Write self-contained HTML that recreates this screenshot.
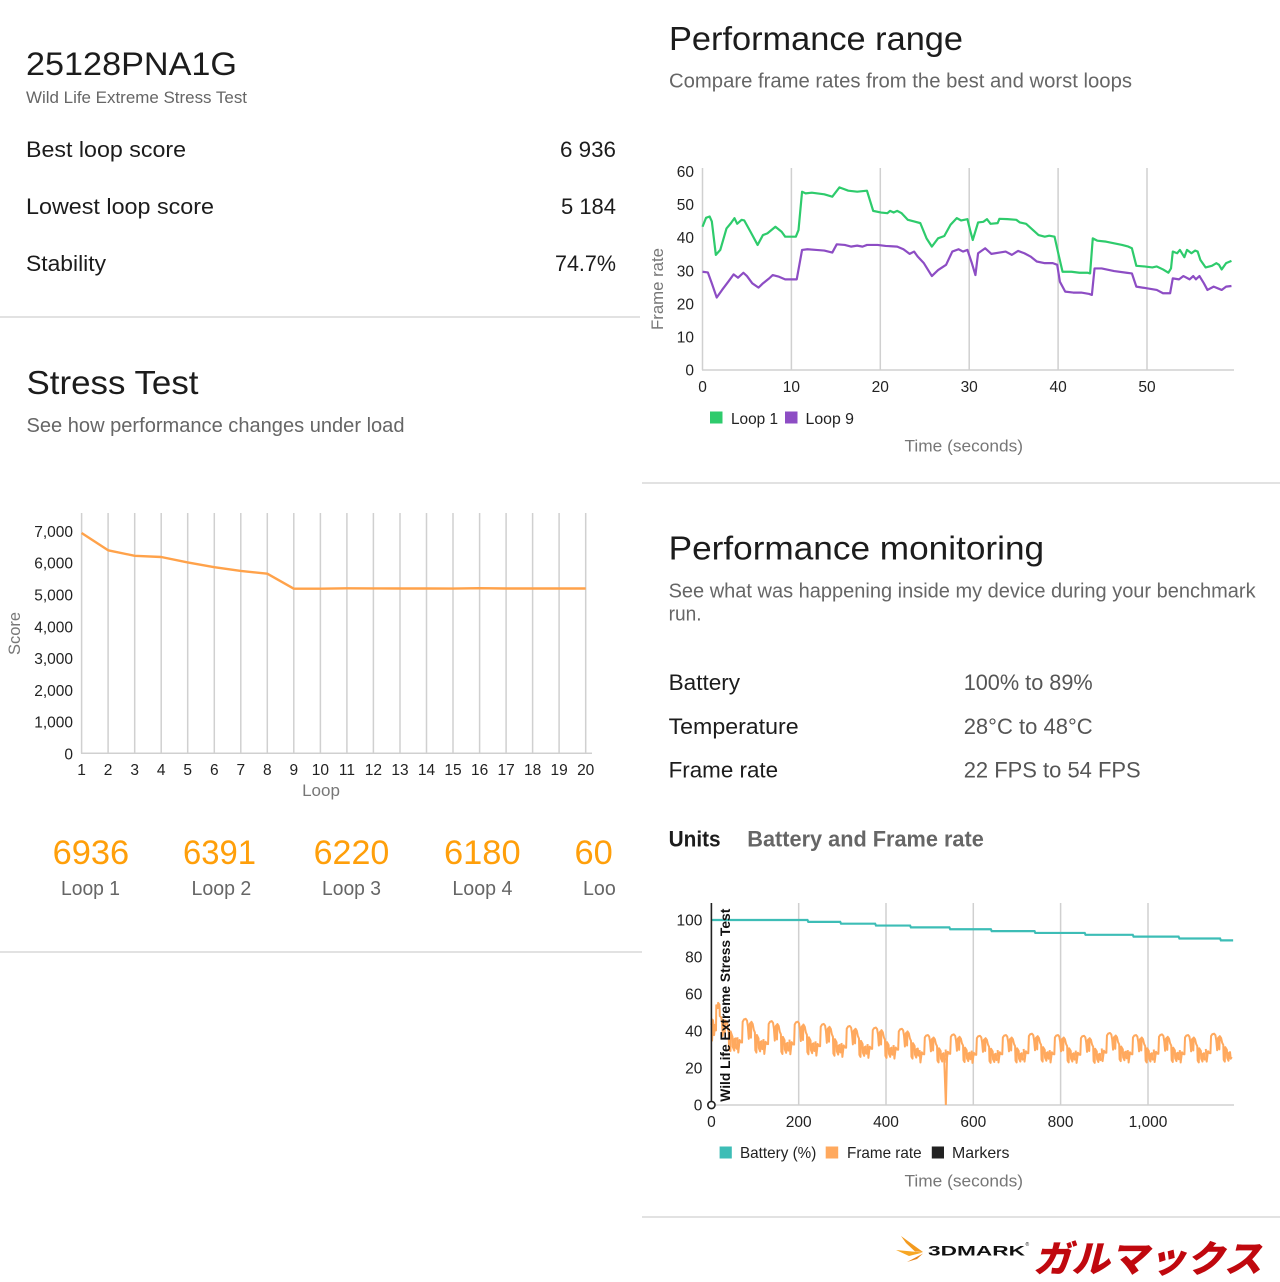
<!DOCTYPE html>
<html>
<head>
<meta charset="utf-8">
<style>
html,body{margin:0;padding:0;background:#fff;}
svg{display:block;}
text{font-family:"Liberation Sans",Arial,sans-serif;}
</style>
</head>
<body>
<svg width="1280" height="1282" viewBox="0 0 1280 1282" xmlns="http://www.w3.org/2000/svg">
<defs>
<polyline id="G" fill="none" vector-effect="non-scaling-stroke" stroke-linejoin="round" points="0,43.3 0.4,46 0.8,46.4 1.05,44.9 1.5,34.8 2,36.3 2.7,42.8 3.2,44.4 3.6,45.9 3.9,44.2 4.4,45.4 4.7,45.2 5.4,41.8 6.2,37.8 6.8,40.8 7.3,41.3 8.2,43.3 8.9,41.8 9.3,40.3 10.5,40.3 10.8,42.3 11.2,53.9 11.6,53.4 12.3,53.6 13.7,53.1 14.6,52.4 15.4,55.2 16.4,54.2 17.4,53.9 18.5,54.2 19.2,48.1 20.1,47.6 20.8,47.4 21.1,48.1 21.5,47.6 21.9,48.1 22.4,47.4 23.1,45.4 23.8,44.9 24.5,44.4 25.2,39.8 25.8,37.3 26.5,39.8 27.2,40.5 27.9,43.9 28.6,45.9 29.1,45.2 29.8,45.6 30.1,42.3 30.4,39.3 31,44.6 31.6,44.8 32,45.6 32.4,44.2 33.2,44.4 33.4,45.7 34.3,45.6 35.3,45.4 35.7,44.6 36.4,44.2 37.1,42.5 37.8,40.8 38.5,40.3 39,40.6 39.6,40.3 40.1,34.3 40.5,29.7 41.5,29.7 42.4,29.4 43.3,29.4 43.6,29.2 43.9,39.8 44.4,39.1 45.4,38.8 46.3,38.3 47.2,37.8 47.9,37.3 48.3,36.8 48.8,31.5 49.7,31.3 50.6,31 51.1,31.3 51.8,30.4 52.4,29.4 52.7,30.7 52.9,35.8 53.4,35.3 53.7,36.3 54.2,34.1 54.5,36.3 55,35.3 55.4,36.1 55.7,35.8 56,33.3 56.6,31 57.3,31.5 57.8,32.3 58.1,31.8 58.4,30.4 58.9,32.3 59.5,33"/>
<polyline id="P" fill="none" vector-effect="non-scaling-stroke" stroke-linejoin="round" points="0,29.7 0.6,29.5 1.05,26.2 1.6,21.9 2.2,24.2 2.9,26.7 3.5,28.9 4,27.9 4.6,29.4 5,28.4 5.6,26.2 6.3,24.9 6.8,26.2 7.5,27.7 7.9,28.7 8.6,28.2 9.3,27.4 10.6,27.4 11.2,36.3 11.8,36.5 12.8,36.3 13.7,36.1 14.6,35.5 15.1,38 16,37.8 16.7,37.3 17.4,37.6 18,37.3 18.5,37.8 19.7,37.8 20.6,37.5 21.9,37.3 22.6,36.5 23.3,35.1 23.8,35.8 24.2,34.3 24.9,32.3 25.8,28.4 26.5,30.2 27.4,31.8 28.1,35.8 28.8,36.5 29.3,35.8 29.8,36.3 30.3,32.3 30.7,28.7 31,35.3 31.8,36.8 32.5,35.1 33.4,35.5 34.1,35.8 34.8,34.8 35.5,36 36.2,35.3 36.9,34.3 37.6,32.8 38.5,32.3 39.4,32.3 39.9,31.8 40.2,26.7 40.8,23.7 41.7,23.4 42.6,23.4 43.5,23 43.8,22.7 44.1,30.7 44.9,30.7 46.3,29.9 47.7,29.4 48.3,29.2 48.8,25.2 50,24.7 51.1,24.2 51.8,23.2 52.6,23.2 52.9,27.7 53.6,27.4 54.1,28.4 54.8,27.4 55.2,28.4 55.5,27.4 55.9,28.4 56.4,26.2 56.8,24.2 57.5,25.2 58.4,24.2 58.9,25.2 59.5,25.4"/>
<polyline id="G2" fill="none" vector-effect="non-scaling-stroke" stroke-linejoin="round" points="0,43.3 0.8,46.4 1.5,34.8 3.6,45.9 5.4,41.8 6.2,37.8 8.2,43.3 10.5,40.3 11.2,53.9 14.6,52.4 15.4,55.2 18.5,54.2 19.2,48.1 22.4,47.4 24.5,44.4 25.8,37.3 28.6,45.9 29.8,45.6 30.4,39.3 32,45.6 36.4,44.2 38.5,40.3 39.6,40.3 40.5,29.7 43.6,29.2 43.9,39.8 48.3,36.8 48.8,31.5 52.4,29.4 53,35.8 55.4,36 56.6,31 58.4,30.4 59.5,33"/>
<polyline id="P2" fill="none" vector-effect="non-scaling-stroke" stroke-linejoin="round" points="0,29.7 2,23 5,28.5 8,27.5 10.6,27.4 12,36.5 15,37.5 19,37.8 22,37 24,34.3 26,29 28,35.5 30,36 31,29.5 32,36.5 35,35.5 37.5,33 40,31.8 41,24 43.5,23 44.5,30.7 48.3,29.2 49,25 52,23.5 53,27.7 55.5,28 57,24.5 59.5,25.4"/>
<clipPath id="clipScores"><rect x="0" y="820" width="615" height="100"/></clipPath>
</defs>

<!-- ============ LEFT TOP ============ -->
<text x="26" y="75" font-size="32" fill="#1c1c1c" textLength="211" lengthAdjust="spacingAndGlyphs">25128PNA1G</text>
<text x="26" y="103" font-size="17" fill="#666" textLength="221" lengthAdjust="spacingAndGlyphs">Wild Life Extreme Stress Test</text>
<text x="26" y="157" font-size="22" fill="#1c1c1c" textLength="160" lengthAdjust="spacingAndGlyphs">Best loop score</text>
<text x="560" y="157" font-size="22" fill="#1c1c1c" textLength="56" lengthAdjust="spacingAndGlyphs">6 936</text>
<text x="26" y="214" font-size="22" fill="#1c1c1c" textLength="188" lengthAdjust="spacingAndGlyphs">Lowest loop score</text>
<text x="561" y="214" font-size="22" fill="#1c1c1c" textLength="55" lengthAdjust="spacingAndGlyphs">5 184</text>
<text x="26" y="271" font-size="22" fill="#1c1c1c" textLength="80" lengthAdjust="spacingAndGlyphs">Stability</text>
<text x="555" y="271" font-size="22" fill="#1c1c1c" textLength="61" lengthAdjust="spacingAndGlyphs">74.7%</text>
<line x1="0" y1="317" x2="640" y2="317" stroke="#e2e2e2" stroke-width="2"/>

<!-- ============ STRESS TEST ============ -->
<text x="26.5" y="394" font-size="33" fill="#1c1c1c" textLength="172" lengthAdjust="spacingAndGlyphs">Stress Test</text>
<text x="26.5" y="432" font-size="20.5" fill="#666" textLength="378" lengthAdjust="spacingAndGlyphs">See how performance changes under load</text>

<g stroke="#d0d0d0" stroke-width="1.5">
<line x1="81.6" y1="513" x2="81.6" y2="753.3"/>
<line x1="108.1" y1="513" x2="108.1" y2="753.3"/>
<line x1="134.7" y1="513" x2="134.7" y2="753.3"/>
<line x1="161.2" y1="513" x2="161.2" y2="753.3"/>
<line x1="187.7" y1="513" x2="187.7" y2="753.3"/>
<line x1="214.3" y1="513" x2="214.3" y2="753.3"/>
<line x1="240.8" y1="513" x2="240.8" y2="753.3"/>
<line x1="267.3" y1="513" x2="267.3" y2="753.3"/>
<line x1="293.8" y1="513" x2="293.8" y2="753.3"/>
<line x1="320.4" y1="513" x2="320.4" y2="753.3"/>
<line x1="346.9" y1="513" x2="346.9" y2="753.3"/>
<line x1="373.4" y1="513" x2="373.4" y2="753.3"/>
<line x1="400" y1="513" x2="400" y2="753.3"/>
<line x1="426.5" y1="513" x2="426.5" y2="753.3"/>
<line x1="453" y1="513" x2="453" y2="753.3"/>
<line x1="479.6" y1="513" x2="479.6" y2="753.3"/>
<line x1="506.1" y1="513" x2="506.1" y2="753.3"/>
<line x1="532.6" y1="513" x2="532.6" y2="753.3"/>
<line x1="559.1" y1="513" x2="559.1" y2="753.3"/>
<line x1="585.7" y1="513" x2="585.7" y2="753.3"/>
<line x1="81" y1="753.3" x2="592" y2="753.3"/>
</g>
<polyline fill="none" stroke="#ffa24a" stroke-width="2.4" stroke-linejoin="round" points="81.6,533 108.1,550.3 134.7,555.8 161.2,557 187.7,562.4 214.3,567.2 240.8,570.9 267.3,573.7 293.8,588.7 320.4,588.7 346.9,588.3 373.4,588.4 400,588.5 426.5,588.5 453,588.6 479.6,588.2 506.1,588.5 532.6,588.5 559.1,588.5 585.7,588.5"/>
<g font-size="15.5" fill="#222" text-anchor="end">
<text x="73" y="537">7,000</text>
<text x="73" y="568.7">6,000</text>
<text x="73" y="600.5">5,000</text>
<text x="73" y="632.3">4,000</text>
<text x="73" y="664">3,000</text>
<text x="73" y="695.8">2,000</text>
<text x="73" y="727.5">1,000</text>
<text x="73" y="759.3">0</text>
</g>
<g font-size="15.5" fill="#222" text-anchor="middle">
<text x="81.6" y="775">1</text><text x="108.1" y="775">2</text><text x="134.7" y="775">3</text><text x="161.2" y="775">4</text><text x="187.7" y="775">5</text><text x="214.3" y="775">6</text><text x="240.8" y="775">7</text><text x="267.3" y="775">8</text><text x="293.8" y="775">9</text><text x="320.4" y="775">10</text><text x="346.9" y="775">11</text><text x="373.4" y="775">12</text><text x="400" y="775">13</text><text x="426.5" y="775">14</text><text x="453" y="775">15</text><text x="479.6" y="775">16</text><text x="506.1" y="775">17</text><text x="532.6" y="775">18</text><text x="559.1" y="775">19</text><text x="585.7" y="775">20</text>
</g>
<text x="321" y="796" font-size="17" fill="#777" text-anchor="middle">Loop</text>
<text transform="translate(20,633.5) rotate(-90)" font-size="17" fill="#777" text-anchor="middle" textLength="43" lengthAdjust="spacingAndGlyphs">Score</text>

<!-- loop scores -->
<g clip-path="url(#clipScores)">
<g font-size="34.5" fill="#ff9f0a">
<text x="52.6" y="864" textLength="76.6" lengthAdjust="spacingAndGlyphs">6936</text>
<text x="183" y="864" textLength="73" lengthAdjust="spacingAndGlyphs">6391</text>
<text x="313.6" y="864" textLength="75.7" lengthAdjust="spacingAndGlyphs">6220</text>
<text x="444" y="864" textLength="76.6" lengthAdjust="spacingAndGlyphs">6180</text>
<text x="574.5" y="864" textLength="76.6" lengthAdjust="spacingAndGlyphs">6010</text>
</g>
<g font-size="20" fill="#666">
<text x="61" y="895" textLength="59" lengthAdjust="spacingAndGlyphs">Loop 1</text>
<text x="191.5" y="895" textLength="59.8" lengthAdjust="spacingAndGlyphs">Loop 2</text>
<text x="322" y="895" textLength="59" lengthAdjust="spacingAndGlyphs">Loop 3</text>
<text x="452.4" y="895" textLength="60" lengthAdjust="spacingAndGlyphs">Loop 4</text>
<text x="583" y="895" textLength="60" lengthAdjust="spacingAndGlyphs">Loop 5</text>
</g>
</g>
<line x1="0" y1="952" x2="642" y2="952" stroke="#e2e2e2" stroke-width="2"/>

<!-- ============ PERFORMANCE RANGE ============ -->
<text x="669" y="50" font-size="33" fill="#1c1c1c" textLength="294" lengthAdjust="spacingAndGlyphs">Performance range</text>
<text x="669" y="87.3" font-size="20" fill="#666" textLength="463" lengthAdjust="spacingAndGlyphs">Compare frame rates from the best and worst loops</text>

<g stroke="#d0d0d0" stroke-width="1.5">
<line x1="702.5" y1="168" x2="702.5" y2="370"/>
<line x1="791.4" y1="168" x2="791.4" y2="370"/>
<line x1="880.3" y1="168" x2="880.3" y2="370"/>
<line x1="969.2" y1="168" x2="969.2" y2="370"/>
<line x1="1058.1" y1="168" x2="1058.1" y2="370"/>
<line x1="1147" y1="168" x2="1147" y2="370"/>
<line x1="702" y1="370" x2="1234" y2="370"/>
</g>
<g transform="translate(702.5,370) scale(8.89,-3.308)">
<use href="#G" stroke="#2ecb6c" stroke-width="2.2"/>
<use href="#P" stroke="#8d4dc4" stroke-width="2.2"/>
</g>
<g font-size="15.5" fill="#222" text-anchor="end">
<text x="694" y="177">60</text>
<text x="694" y="210.1">50</text>
<text x="694" y="243.2">40</text>
<text x="694" y="276.3">30</text>
<text x="694" y="309.3">20</text>
<text x="694" y="342.4">10</text>
<text x="694" y="375.5">0</text>
</g>
<g font-size="15.5" fill="#222" text-anchor="middle">
<text x="702.5" y="392">0</text>
<text x="791.4" y="392">10</text>
<text x="880.3" y="392">20</text>
<text x="969.2" y="392">30</text>
<text x="1058.1" y="392">40</text>
<text x="1147" y="392">50</text>
</g>
<text transform="translate(663,289) rotate(-90)" font-size="17" fill="#777" text-anchor="middle" textLength="82" lengthAdjust="spacingAndGlyphs">Frame rate</text>
<rect x="710" y="411.5" width="12.5" height="12" fill="#2ecb6c"/>
<text x="731" y="424" font-size="16" fill="#222" textLength="47" lengthAdjust="spacingAndGlyphs">Loop 1</text>
<rect x="785" y="411.5" width="12.5" height="12" fill="#8d4dc4"/>
<text x="805.5" y="424" font-size="16" fill="#222" textLength="48.5" lengthAdjust="spacingAndGlyphs">Loop 9</text>
<text x="904.5" y="451.7" font-size="17" fill="#777" textLength="118.5" lengthAdjust="spacingAndGlyphs">Time (seconds)</text>
<line x1="642" y1="483" x2="1280" y2="483" stroke="#e2e2e2" stroke-width="2"/>

<!-- ============ PERFORMANCE MONITORING ============ -->
<text x="668.6" y="559.3" font-size="33" fill="#1c1c1c" textLength="375.5" lengthAdjust="spacingAndGlyphs">Performance monitoring</text>
<text x="668.6" y="597.7" font-size="20.5" fill="#666" textLength="587" lengthAdjust="spacingAndGlyphs">See what was happening inside my device during your benchmark</text>
<text x="668.6" y="620.7" font-size="20.5" fill="#666" textLength="33" lengthAdjust="spacingAndGlyphs">run.</text>

<text x="668.6" y="690" font-size="22" fill="#1c1c1c" textLength="71.5" lengthAdjust="spacingAndGlyphs">Battery</text>
<text x="963.7" y="690" font-size="22" fill="#555" textLength="129" lengthAdjust="spacingAndGlyphs">100% to 89%</text>
<text x="668.6" y="734" font-size="22" fill="#1c1c1c" textLength="130" lengthAdjust="spacingAndGlyphs">Temperature</text>
<text x="963.7" y="734" font-size="22" fill="#555" textLength="129" lengthAdjust="spacingAndGlyphs">28°C to 48°C</text>
<text x="668.6" y="777.5" font-size="22" fill="#1c1c1c" textLength="109.5" lengthAdjust="spacingAndGlyphs">Frame rate</text>
<text x="963.7" y="777.5" font-size="22" fill="#555" textLength="177" lengthAdjust="spacingAndGlyphs">22 FPS to 54 FPS</text>

<text x="668.6" y="846.7" font-size="22" font-weight="bold" fill="#1c1c1c" textLength="52" lengthAdjust="spacingAndGlyphs">Units</text>
<text x="747.3" y="846.7" font-size="22" font-weight="bold" fill="#666" textLength="236.5" lengthAdjust="spacingAndGlyphs">Battery and Frame rate</text>

<g stroke="#d0d0d0" stroke-width="1.5">
<line x1="798.7" y1="903" x2="798.7" y2="1105"/>
<line x1="886" y1="903" x2="886" y2="1105"/>
<line x1="973.3" y1="903" x2="973.3" y2="1105"/>
<line x1="1060.6" y1="903" x2="1060.6" y2="1105"/>
<line x1="1148" y1="903" x2="1148" y2="1105"/>
<line x1="711" y1="1105" x2="1234" y2="1105"/>
</g>
<g transform="translate(711.4,1105) scale(0.4366,-1.85)">
<polyline fill="none" stroke="#3dbdb6" stroke-width="2.2" vector-effect="non-scaling-stroke" points="0,100 220,100 222,99 295,99 297,98 375,98 377,97 455,97 457,96 545,96 547,95 640,95 642,94 740,94 742,93 855,93 857,92 965,92 967,91 1070,91 1072,90 1165,90 1167,89 1195,89"/>
<g stroke="#ffa95e" stroke-width="2">
<use href="#G2"/>
<use href="#P2" transform="translate(59.6,0) scale(1,1.233)"/>
<use href="#P2" transform="translate(119.2,0) scale(1,1.2)"/>
<use href="#P2" transform="translate(178.8,0) scale(1,1.192)"/>
<use href="#P2" transform="translate(238.4,0) scale(1,1.159)"/>
<use href="#P2" transform="translate(298,0) scale(1,1.13)"/>
<use href="#P2" transform="translate(357.6,0) scale(1,1.108)"/>
<use href="#P2" transform="translate(417.2,0) scale(1,1.09)"/>
<use href="#P2" transform="translate(476.8,0)"/>
<use href="#P2" transform="translate(536.4,0) scale(1,1.01)"/>
<use href="#P2" transform="translate(596,0) scale(1,0.99)"/>
<use href="#P2" transform="translate(655.6,0)"/>
<use href="#P2" transform="translate(715.2,0) scale(1,1.02)"/>
<use href="#P2" transform="translate(774.8,0)"/>
<use href="#P2" transform="translate(834.4,0) scale(1,0.99)"/>
<use href="#P2" transform="translate(894,0) scale(1,1.03)"/>
<use href="#P2" transform="translate(953.6,0)"/>
<use href="#P2" transform="translate(1013.2,0) scale(1,1.01)"/>
<use href="#P2" transform="translate(1072.8,0)"/>
<use href="#P2" transform="translate(1132.4,0) scale(1,1.02)"/>
<polyline fill="none" vector-effect="non-scaling-stroke" points="533,26 537,0 540,29"/>
</g>
</g>
<!-- marker -->
<line x1="711.4" y1="903" x2="711.4" y2="1105" stroke="#222" stroke-width="1.6"/>
<circle cx="711.4" cy="1105" r="3.6" fill="#fff" stroke="#222" stroke-width="1.6"/>
<text transform="translate(730,1101.7) rotate(-90)" font-size="14" font-weight="bold" fill="#111" textLength="193" lengthAdjust="spacingAndGlyphs">Wild Life Extreme Stress Test</text>

<g font-size="15.5" fill="#222" text-anchor="end">
<text x="702.4" y="925.5">100</text>
<text x="702.4" y="962.5">80</text>
<text x="702.4" y="999.5">60</text>
<text x="702.4" y="1036.5">40</text>
<text x="702.4" y="1073.5">20</text>
<text x="702.4" y="1110.5">0</text>
</g>
<g font-size="15.5" fill="#222" text-anchor="middle">
<text x="711.4" y="1127">0</text>
<text x="798.7" y="1127">200</text>
<text x="886" y="1127">400</text>
<text x="973.3" y="1127">600</text>
<text x="1060.6" y="1127">800</text>
<text x="1148" y="1127">1,000</text>
</g>
<rect x="719.6" y="1146.5" width="12.2" height="12" fill="#3dbdb6"/>
<text x="740" y="1158" font-size="16" fill="#222" textLength="76.3" lengthAdjust="spacingAndGlyphs">Battery (%)</text>
<rect x="825.7" y="1146.5" width="12.5" height="12" fill="#ffa95e"/>
<text x="847" y="1158" font-size="16" fill="#222" textLength="74.6" lengthAdjust="spacingAndGlyphs">Frame rate</text>
<rect x="931.8" y="1146.5" width="12.2" height="12" fill="#222"/>
<text x="952" y="1158" font-size="16" fill="#222" textLength="57.4" lengthAdjust="spacingAndGlyphs">Markers</text>
<text x="904.5" y="1186.7" font-size="17" fill="#777" textLength="118.5" lengthAdjust="spacingAndGlyphs">Time (seconds)</text>
<line x1="642" y1="1217" x2="1280" y2="1217" stroke="#e2e2e2" stroke-width="2"/>

<!-- ============ LOGO ============ -->
<polygon points="901,1236 923,1252 915,1251.5 906,1243" fill="#f39a1e"/>
<polygon points="896,1250 923,1252.5 909,1256" fill="#f7a623"/>
<polygon points="907,1262 923,1253.5 917,1259" fill="#e8841a"/>
<text x="928" y="1255.5" font-size="14" font-weight="bold" fill="#111" textLength="97" lengthAdjust="spacingAndGlyphs">3DMARK</text>
<text x="1025.5" y="1246" font-size="5" fill="#111">®</text>
<text transform="translate(1033,1272) skewX(-14)" font-size="37" font-weight="900" fill="#c0080e" textLength="229" lengthAdjust="spacingAndGlyphs" style="font-family:'Noto Sans CJK JP','IPAGothic',sans-serif">ガルマックス</text>
</svg>
</body>
</html>
